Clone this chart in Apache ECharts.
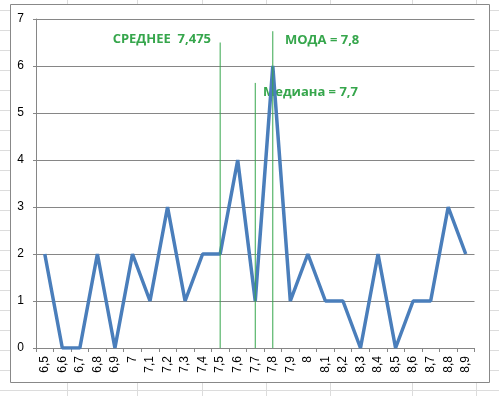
<!DOCTYPE html>
<html><head><meta charset="utf-8">
<script src="https://cdn.jsdelivr.net/npm/echarts@6/dist/echarts.min.js"></script>
<style>html,body{margin:0;padding:0;background:#fff}#c{width:499px;height:396px}</style>
</head><body><div id="c"></div>
<script>
const categories = ['6,5','6,6','6,7','6,8','6,9','7','7,1','7,2','7,3','7,4','7,5','7,6','7,7','7,8','7,9','8','8,1','8,2','8,3','8,4','8,5','8,6','8,7','8,8','8,9'];
const counts = [2,0,0,2,0,2,1,3,1,2,2,4,1,6,1,2,1,1,0,2,0,1,1,3,2];
const yTicks = [0,1,2,3,4,5,6,7];
const meanLine = {cat:'7,5', top:6.5, label:'СРЕДНЕЕ  7,475'};
const medianLine = {cat:'7,7', top:5.64, label:'Медиана = 7,7'};
const modeLine = {cat:'7,8', top:6.74, label:'МОДА = 7,8'};

const chart = echarts.init(document.getElementById('c'), null, {renderer:'canvas'});
const green = '#36a64c';
const labelFont = 'bold 13px "Open Sans", "Liberation Sans", sans-serif';
const sheetCols = [67,137,202,266,330,412,476];
const sheetRows = [];
for (let y = 10; y <= 390; y += 20) sheetRows.push(y);
const bg = [];
sheetCols.forEach(x => bg.push({type:'line', z:-10, shape:{x1:x+0.5,y1:0,x2:x+0.5,y2:396}, style:{stroke:'#dcdcdc',lineWidth:1}}));
sheetRows.forEach(y => bg.push({type:'line', z:-10, shape:{x1:0,y1:y+0.5,x2:499,y2:y+0.5}, style:{stroke:'#dcdcdc',lineWidth:1}}));
bg.push({type:'rect', z:-5, shape:{x:10.5,y:4.5,width:479,height:378}, style:{fill:'#fff', stroke:'#888', lineWidth:1}});

function vSeries(o){
  return {
    type:'line', data:[[o.cat,0],[o.cat,o.top]], symbol:'none', silent:true, z:3,
    lineStyle:{color:green, width:1}, itemStyle:{color:green}
  };
}

chart.setOption({
  animation:false,
  grid:{left:36, right:24.5, top:19, bottom:48, containLabel:false},
  xAxis:{
    type:'category', data:categories, boundaryGap:true,
    axisLine:{lineStyle:{color:'#868686', width:1}},
    axisTick:{show:true, alignWithLabel:false, length:4, lineStyle:{color:'#868686'}},
    axisLabel:{rotate:90, interval:0, color:'#000', fontFamily:'Liberation Sans, Arial, sans-serif', fontSize:12, margin:8}
  },
  yAxis:{
    type:'value', min:0, max:7, interval:1,
    axisLine:{show:true, lineStyle:{color:'#868686'}},
    axisTick:{show:true, length:3, lineStyle:{color:'#868686'}},
    splitLine:{show:true, lineStyle:{color:'#868686', width:1}},
    axisLabel:{color:'#000', fontFamily:'Liberation Sans, Arial, sans-serif', fontSize:12, margin:12}
  },
  graphic:bg.concat([
    {type:'text', x:211, y:39, style:{text:meanLine.label, fill:green, font:labelFont, align:'right', verticalAlign:'middle'}},
    {type:'text', x:285, y:40, style:{text:modeLine.label, fill:green, font:labelFont, align:'left', verticalAlign:'middle'}},
    {type:'text', x:263, y:92, style:{text:medianLine.label, fill:green, font:labelFont, align:'left', verticalAlign:'middle'}}
  ]),
  series:[{
    type:'line', data:counts, symbol:'none',
    lineStyle:{color:'#4a7ebb', width:3.5}, z:2
  }, vSeries(meanLine), vSeries(medianLine), vSeries(modeLine)]
});
</script></body></html>
